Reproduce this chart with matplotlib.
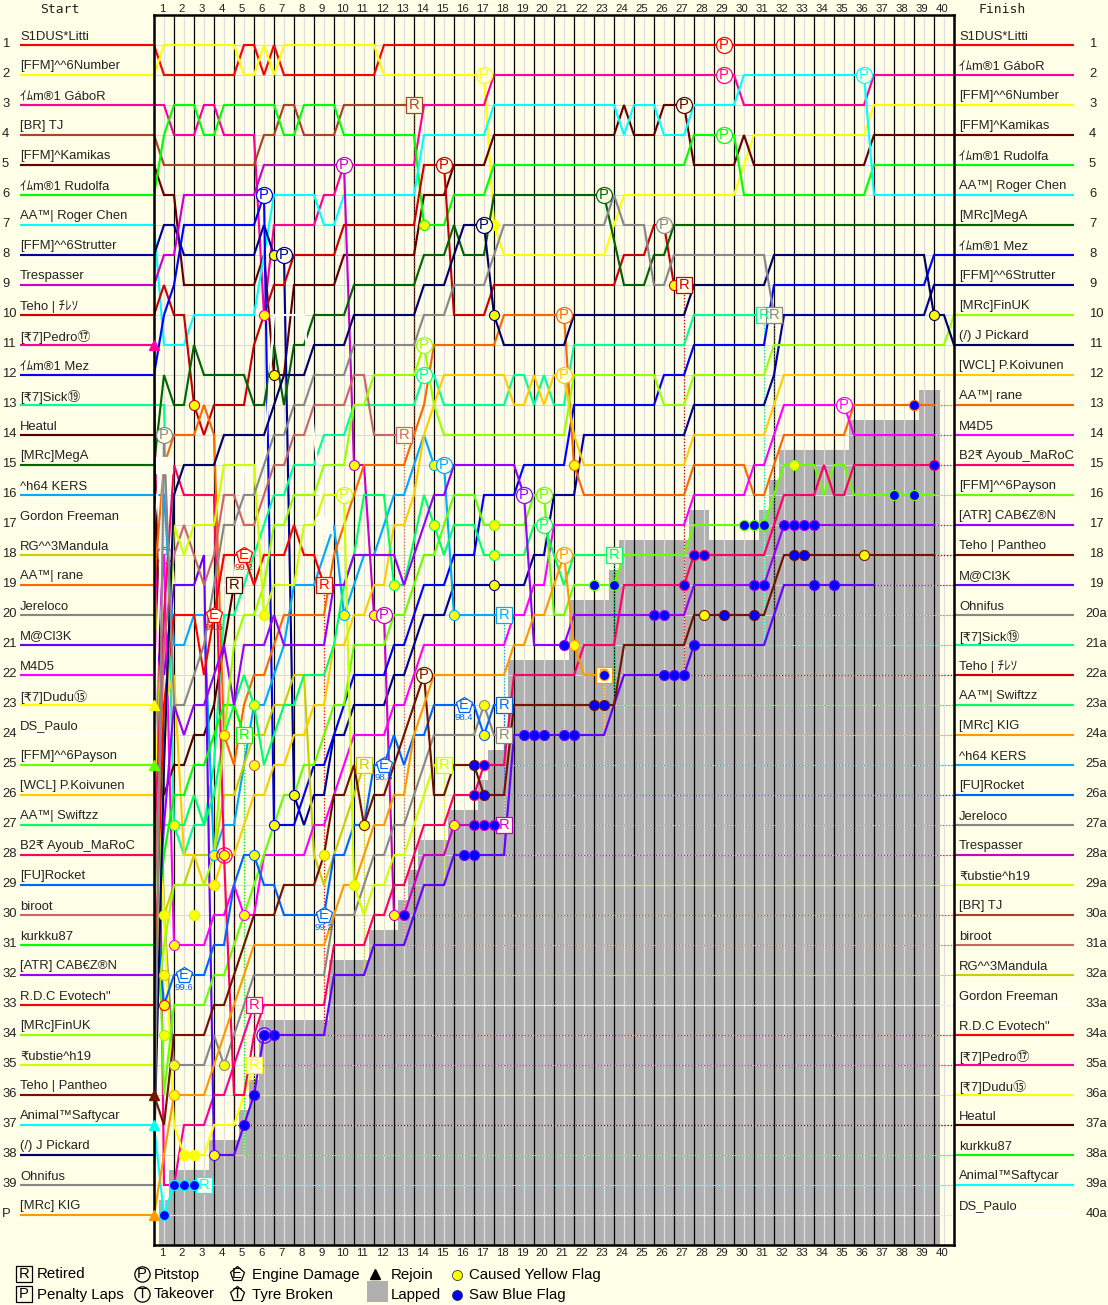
import matplotlib
matplotlib.use("Agg")
import matplotlib.pyplot as plt
from matplotlib.patches import Rectangle

plt.rcParams['font.family'] = ['Liberation Sans', 'Noto Sans CJK JP', 'DejaVu Sans']

# ---- start grid ----
NAMES = ["S1DUS*Litti", "[FFM]^^6Number", "ｲﾑm®1 GáboR", "[BR] TJ", "[FFM]^Kamikas", "ｲﾑm®1 Rudolfa",
         "AA™| Roger Chen", "[FFM]^^6Strutter", "Trespasser", "Teho | ﾁﾚｿ", "[₹7]Pedro⑰", "ｲﾑm®1 Mez",
         "[₹7]Sick⑲", "Heatul", "[MRc]MegA", "^h64 KERS", "Gordon Freeman", "RG^^3Mandula",
         "AA™| rane", "Jereloco", "M@Cl3K", "M4D5", "[₹7]Dudu⑮", "DS_Paulo",
         "[FFM]^^6Payson", "[WCL] P.Koivunen", "AA™| Swiftzz", "B2₹ Ayoub_MaRoC", "[FU]Rocket", "biroot",
         "kurkku87", "[ATR] CAB€Z®N", "R.D.C Evotech\"", "[MRc]FinUK", "₹ubstie^h19", "Teho | Pantheo",
         "Animal™Saftycar", "(/) J Pickard", "Ohnifus", "[MRc] KIG"]
COLORS = ["#ff0000", "#ffff00", "#ff0099", "#aa4422", "#660000", "#00ff00",
          "#00ffff", "#000099", "#cc00cc", "#cc0000", "#ff0099", "#0000ff",
          "#00ff99", "#550000", "#006600", "#00aaff", "#ffffff", "#cccc00",
          "#ff6600", "#888888", "#6600ff", "#ff00ff", "#ffff00", "#ffffff",
          "#66ff00", "#ffcc00", "#00ff66", "#ff0066", "#0066ff", "#cc6666",
          "#00ff00", "#9900ff", "#ff0000", "#99ff00", "#ccff00", "#771100",
          "#00ffff", "#000066", "#888888", "#ff9900"]
FINISH = ["S1DUS*Litti", "ｲﾑm®1 GáboR", "[FFM]^^6Number", "[FFM]^Kamikas", "ｲﾑm®1 Rudolfa", "AA™| Roger Chen",
          "[MRc]MegA", "ｲﾑm®1 Mez", "[FFM]^^6Strutter", "[MRc]FinUK", "(/) J Pickard", "[WCL] P.Koivunen",
          "AA™| rane", "M4D5", "B2₹ Ayoub_MaRoC", "[FFM]^^6Payson", "[ATR] CAB€Z®N", "Teho | Pantheo",
          "M@Cl3K", "Ohnifus", "[₹7]Sick⑲", "Teho | ﾁﾚｿ", "AA™| Swiftzz", "[MRc] KIG",
          "^h64 KERS", "[FU]Rocket", "Jereloco", "Trespasser", "₹ubstie^h19", "[BR] TJ",
          "biroot", "RG^^3Mandula", "Gordon Freeman", "R.D.C Evotech\"", "[₹7]Pedro⑰", "[₹7]Dudu⑮",
          "Heatul", "kurkku87", "Animal™Saftycar", "DS_Paulo"]

# ---- position changes: (lap, new position) ----
LITTI = [(1,2),(5,1),(6,2),(6.5,1),(7,2),(12,1)]
NUMBER = [(1,1),(5,2),(6,1),(6.5,2),(7,1),(12,2),(17.5,7),(18,8),(23.5,7),(24,6),(30,5),(30.5,4),(36.5,3)]
GABOR = [(1.5,4),(3,3),(4,4),(6,10),(6.5,7),(9,6),(10,5),(14,3),(17.5,2),(30,3),(36.5,2)]
TJ = [(1,5),(6,4),(7,3),(8,4),(10,3)]
KAMIKAS = [(1,6),(2,9),(6,8),(6.5,12),(7.5,9),(10,8),(14,6),(15.5,5),(17.5,4),(24,3),(24.5,4),(26,3),(27.5,5),(30,4),(30.5,5),(36.5,4)]
RUDOLFA = [(1,4),(1.5,3),(3,4),(4,3),(7,4),(8,3),(10,4),(14,7),(15.5,6),(17.5,5),(27.5,4),(30,6),(36.5,5)]
ROGER = [(1,11),(2.5,10),(6,8),(6.5,6),(9,7),(10,6),(14,4),(17.5,3),(24,4),(24.5,3),(26,4),(27.5,3),(30,2),(36.5,6)]
STRUTTER = [(1,7),(2,8),(6,7),(6.5,8),(7.5,26),(8,27),(8.5,26),(9.5,24),(10.5,23),(12.5,22),(13.5,21),(14,20),(15.5,19),(19.5,18),(20.5,16),(22,14),(27.5,13),(31.5,12),(32,10),(39.5,9)]
TRESP = [(1,8),(2,6),(6,5),(10.5,15),(11.5,20),(12.5,30),(13.5,29),(14,28),(15.5,27)]
TEHO = [(1,9),(1.5,10),(2.5,13),(3,14),(3.5,13),(5.5,11),(6,10),(6.5,9),(7.5,8),(10,7),(14,5),(15.5,10),(17.5,9),(24,8),(25.5,7),(26.5,9)]
PEDRO = [(1,39),(2,37),(3.5,36),(4.5,35),(5,34),(5.5,33)]
MEZ = [(1,10),(1.5,9),(2,7),(6,6),(6.5,27),(8,26),(8.5,25),(9.5,24),(10,23),(10.5,22),(12.5,21),(13.5,20),(14,19),(15.5,18),(17,16),(19,15),(21.5,13),(26,12),(27.5,11),(31.5,9),(39.5,8)]
SICK = [(1.5,27),(2,28),(2.5,27),(3.5,25),(4,20),(5,19),(5.5,18),(6,17),(6.5,16),(7.5,15),(9,14),(10.5,13),(14,12),(15,13),(18.5,12),(19.5,13),(20,12),(20.5,13),(21.5,11),(27.5,10)]
HEATUL = [(1,26),(1.5,25),(2.5,24),(3.5,23),(4,21),(4.5,19)]
MEGA = [(1,12),(1.5,13),(2.5,11),(3,12),(5.5,13),(6.5,11),(7,13),(7.5,11),(8.5,10),(10.5,9),(14,8),(15.5,7),(16,8),(17.5,6),(23.5,7.5),(24,9),(25.5,8),(26.5,7)]
KERS = [(1.5,21),(2.5,20),(3.5,28),(4,27),(5,25),(5.5,23),(6.5,22),(7,21),(7.5,19),(9,18),(9.5,17),(10,20),(10.5,19),(11,18),(12,17),(12.5,16),(13.5,15),(14,14),(14.5,15),(15.5,20)]
GORDON = [(1,14),(1.5,19),(5,15),(6.5,10),(8.5,14),(9,17)]
MANDULA = [(1,30),(1.5,29),(2.5,28),(4,26),(5,25),(5.5,24),(6.5,23),(7.5,22),(8.5,28),(9,29),(9.5,28),(10,27),(10.5,26),(11,25)]
RANE = [(1,15),(1.5,14),(3,13),(3.5,14),(4,24),(4.5,25),(5,23),(5.5,22),(6.5,21),(7,20),(9.5,18),(10,17),(10.5,16),(11,15),(13.5,14),(14,13),(14.5,11),(18,10),(21.5,15),(22,16),(27.5,15),(30.5,16),(31.5,15),(32,14),(35.5,13)]
JERELOCO = [(1,30),(1.5,35),(3.5,34),(4,35),(4.5,34),(5,33),(5.5,32),(9.5,30),(11,29),(11.5,28),(12.5,27),(13.5,26),(14,25),(14.5,24),(17,23),(17.5,24)]
MACLEK = [(1,22),(1.5,19),(3,18),(3.5,38),(5,37),(5.5,36),(6,34),(9.5,32),(11.5,31),(13.5,30),(14,29),(15.5,28),(18.5,24),(23.5,23),(24,22),(27.5,21),(31.5,20),(32,19)]
M4D5 = [(1,18),(1.5,31),(3.5,30),(4.5,29),(5,30),(6,28),(8.5,27),(9.5,26),(10,25),(10.5,24),(12.5,23),(13.5,22),(14,21),(18.5,20),(19.5,19),(20.5,17),(27.5,16),(30.5,15),(31.5,14),(32,13),(35.5,14)]
DUDU = [(1,30),(1.5,37),(2,38),(3.5,37),(5,36),(5.5,35)]
PAULO = [(1,15)]
PAYSON = [(1,36),(1.5,33),(3.5,32),(4.5,31),(5,30),(5.5,29),(6,28),(6.5,27),(7,26),(8,25),(9,24),(9.5,23),(10.5,21),(12.5,20),(13.5,19),(14,18),(15,17),(15.5,16),(17,17),(19.5,16),(20.5,20),(21.5,19),(24,18),(27.5,17),(31.5,16),(32,15),(34,16),(34.5,15),(35.5,16)]
KOIVUNEN = [(1,23),(1.5,22),(2,28),(3,29),(4,28),(5,27),(5.5,26),(6.5,25),(7.5,24),(8.5,23),(9.5,21),(10.5,20),(11.5,19),(12.5,17),(13.5,16),(14,14),(14.5,13),(15,12),(18.5,13),(19.5,12),(20,13),(20.5,12),(21.5,14),(22,15),(27.5,14),(31.5,13),(32,12)]
SWIFTZZ = [(1.5,27),(2.5,26),(3,27),(3.5,26),(4,24),(4.5,23),(5,22),(5.5,23),(6,25),(6.5,24),(7,23),(8,22),(9.5,21),(10,19),(10.5,18),(11,16),(12.5,19),(13.5,17.5),(14,16),(14.5,17),(15,18),(15.5,17),(17,18),(19.5,17),(20.5,18),(21,19),(21.5,18)]
AYOUB = [(1,20),(1.5,15),(2,16),(4,28),(4.5,36),(5.5,34),(6,33),(9.5,31),(11.5,30),(12.5,29),(13.5,28),(14,27),(15.5,26),(17,25),(18.5,22),(22,21),(24,19),(27.5,18),(31.5,17),(32,16),(34,15),(34.5,16),(35.5,15)]
ROCKET = [(1,33),(1.5,32),(3.5,31),(4.5,29),(5,28),(6,29),(7,30),(9.5,28),(10.5,27),(11.5,25),(12.5,24),(13,25),(13.5,24),(14.5,23),(17,24),(17.5,23)]
BIROOT = [(1,21),(1.5,18),(2,17),(2.5,18),(3,19),(3.5,18),(4,16),(5,17),(6,16),(6.5,15),(7.5,14),(8.5,13),(10.5,12),(11.5,14)]
KURKKU = [(1,28),(1.5,26),(2.5,25),(3.5,24),(4,23),(5,24)]
CABEZON = [(1,27),(1.5,23),(2,24),(2.5,23),(3.5,22),(4,21),(4.5,23),(5,21),(6.5,20),(7,21),(9.5,19),(10.5,18),(13,19),(13.5,18),(14,17),(14.5,16),(15.5,15),(19,16),(19.5,21),(21.5,20),(27.5,19),(31.5,18),(32,17)]
EVOTECH = [(1,23),(1.5,20),(3,22),(3.5,20),(4,18),(5.5,19),(6,18),(7.5,17),(8,18),(9,19)]
FINUK = [(1,31),(1.5,29),(3.5,28),(4,24),(4.5,21),(5,20),(6,19),(6.5,17),(7.5,16),(9,15),(10.5,13),(11.5,12),(14,11),(14.5,13),(15,14),(21.5,12),(26,13),(27.5,12),(31.5,11),(40.5,10)]
RUBSTIE = [(1,25),(1.5,17),(2,18),(2.5,17),(4,15),(6,20),(6.5,19),(8,17),(9,16),(10.5,29),(11,30),(11.5,29),(12.5,28),(13.5,27),(14,26),(14.5,25)]
PANTHEO = [(1,37),(1.5,34),(3.5,33),(4.5,32),(5,31),(5.5,30),(7,29),(9,28),(9.5,26),(10.5,25),(11,27),(11.5,26),(12.5,25),(13,24),(13.5,23),(14,22),(14.5,26),(15.5,25),(17,26),(18.5,23),(24,21),(27.5,20),(31.5,19),(32,18)]
SAFTY = [(1,40),(1.5,39)]
PICKARD = [(1,25),(1.5,16),(2,15),(4,14),(6.5,13),(7,12),(8.5,11),(10.5,10),(14,9),(15.5,8),(16,7),(17.5,10),(18,11),(21.5,10),(27.5,9),(31.5,8),(39.5,10),(40.5,11)]
OHNIFUS = [(1,14),(1.5,23),(2.5,22),(3,21),(3.5,19),(4,17),(5,16),(6,15),(6.5,14),(7.5,13),(8.5,12),(10.5,11),(14,10),(15.5,9),(17.5,8),(18,7),(23.5,6),(24,7),(25.5,9),(26.5,8),(31.5,10)]
KIG = [(1,38),(1.5,36),(3.5,35),(4,34),(4.5,33),(5,32),(5.5,31),(9.5,30),(10,29),(11,28),(11.5,27),(12.5,26),(13.5,24),(14,23),(14.5,22),(18.5,21),(19.5,20),(20.5,19),(21,18),(21.5,21),(22,22)]

TRACKS = [LITTI, NUMBER, GABOR, TJ, KAMIKAS, RUDOLFA, ROGER, STRUTTER, TRESP, TEHO, PEDRO, MEZ, SICK, HEATUL,
          MEGA, KERS, GORDON, MANDULA, RANE, JERELOCO, MACLEK, M4D5, DUDU, PAULO, PAYSON, KOIVUNEN, SWIFTZZ,
          AYOUB, ROCKET, BIROOT, KURKKU, CABEZON, EVOTECH, FINUK, RUBSTIE, PANTHEO, SAFTY, PICKARD, OHNIFUS, KIG]

# ---- retirement lap (driver start index + 1 : lap) ----
RETIRE = {4: 13.5, 9: 18, 10: 27, 11: 5.5, 13: 31, 14: 4.5, 16: 18, 17: 9, 18: 11, 20: 18, 23: 5.5, 24: 1,
          27: 23.5, 29: 18, 30: 13, 31: 5, 33: 9, 35: 15, 37: 3, 39: 31.5, 40: 23}
# last lap drawn solid, for cars a lap down at the flag
END_SOLID = {21: 36.5, 22: 39.5, 25: 39.5, 28: 39.5, 32: 39.5, 36: 39.5, 19: 39.5}
REJOIN_START = [11, 23, 25, 36, 37, 40]

# ---- events: (driver start index + 1, lap, position) ----
PITS = [(1,29,1),(3,29,2),(6,29,4),(7,36,2),(2,17,2),(5,27,3),(15,23,6),(39,26,7),(12,6,6),(8,7,8),(38,17,7),
        (9,10,5),(9,12,20),(10,15,5),(19,21,10),(26,21,12),(34,14,11),(13,14,12),(35,10,16),(16,15,15),
        (32,19,16),(25,20,16),(27,20,17),(40,21,18),(36,14,22),(39,1,14),(22,35,13)]
BURIED_PITS = [(22,1,18)]
ENGINE = [(33,3.5,20,"99.6"),(33,5,18,"99.2"),(29,2,32,"99.6"),(29,9,30,"99.2"),(29,12,25,"98.8"),(29,16,23,"98.4")]
YELLOW = [(6,14,7),(38,17.5,10),(2,17.5,7),(10,26.5,9),(10,2.5,13),(38,39.5,10),(8,6.5,8),(3,6,10),(36,36,18),
          (25,32.5,15),(5,6.5,12),(19,21.5,15),(40,21.5,21),(9,10.5,15),(9,11.5,20),(9,12.5,30),(9,15.5,27),
          (16,14.5,15),(16,15.5,20),(35,6,20),(35,10.5,29),(27,12.5,19),(16,10,20),(27,14.5,17),(25,17.5,17),
          (27,17.5,18),(8,17.5,19),(20,17,23),(29,17,24),(18,9,28),(19,4,24),(27,5.5,23),(30,5.5,25),(27,1.5,27),
          (16,3.5,28),(28,4,28),(29,5.5,28),(26,3.5,29),(35,2.5,30),(22,5,30),(35,1,30),(22,1.5,31),(8,7.5,26),
          (12,6.5,27),(36,11,27),(20,1.5,35),(40,1.5,36),(20,4,35),(23,2,38),(23,2.5,38),(21,3.5,38),(36,28,20),
          (39,31.5,10),(18,1,32),(33,1,33),(34,1,34)]
BLUE = [(37,1,40),(37,1.5,39),(37,2,39),(37,2.5,39),(21,5,37),(21,5.5,36),(21,6,34),(21,6.5,34),(9,13,30),
        (36,16.5,25),(36,17,26),(28,16.5,26),(28,17,25),(9,16.5,27),(9,17,27),(9,17.5,27),(21,16,28),(21,16.5,28),
        (21,19,24),(21,19.5,24),(21,20,24),(21,21,24),(21,21.5,24),(36,22.5,23),(36,23,23),(32,21,21),(40,23,22),
        (21,26,22),(21,26.5,22),(21,27,22),(21,27.5,21),(32,25.5,20),(32,26,20),(28,27,19),(28,27.5,18),(28,28,18),
        (36,29,20),(36,30.5,20),(32,30.5,19),(32,31,19),(25,30,17),(25,30.5,17),(25,31,17),(25,22.5,19),(25,23.5,19),
        (32,32,17),(32,32.5,17),(32,33,17),(32,33.5,17),(36,32.5,18),(36,33,18),(21,33.5,19),(21,34.5,19),
        (19,38.5,13),(25,37.5,16),(25,38.5,16),(28,39.5,15)]
RINGS = [(28,4,28),(21,6,34)]

# ---- lapped area: lap edges and upper position for each step ----
LAPPED_EDGES = [0.75,1.25,3.25,4.75,5.25,5.75,9.25,11.25,12.7,13.2,13.7,15.2,16.7,17.2,18.2,21.25,23.25,23.75,
                27.25,28.25,30.75,31.25,31.75,35.25,38.75,39.8]
LAPPED_TOP = [39.5,38.5,37.5,36.5,35.5,33.5,31.5,30.5,29.5,28.5,27.5,26.5,25.5,24.5,21.5,19.5,18.5,17.5,
              16.5,17.5,16.5,15.5,14.5,13.5,12.5]
LAPS = list(range(1, 41))

BG = "#ffffe8"
fig = plt.figure(figsize=(11.08, 13.05), dpi=100, facecolor=BG)
lay = fig.add_axes([0, 0, 1, 1])
lay.set_xlim(0, 1108); lay.set_ylim(1305, 0); lay.axis("off")
ax = fig.add_axes([154/1108, 1-1245/1305, 800/1108, 1230/1305], facecolor=BG)
ax.set_xlim(0.5, 40.5); ax.set_ylim(41, 0)
ax.set_xticks([]); ax.set_yticks([])
for s in ax.spines.values():
    s.set_linewidth(1.8); s.set_color("black"); s.set_zorder(20)

LW = 1.55
for k in LAPS[:-1]:
    ax.axvline(k+0.5, color="black", lw=0.9, zorder=2)
ax.bar(LAPPED_EDGES[:-1], [41-t for t in LAPPED_TOP],
       width=[b-a for a, b in zip(LAPPED_EDGES[:-1], LAPPED_EDGES[1:])],
       bottom=LAPPED_TOP, align="edge", color="#b0b0b0", linewidth=0, zorder=1)
for k in LAPS:
    ax.axvline(k, color="#dedede", lw=0.9, zorder=1.3)
for r in range(1, 41):
    ax.axhline(r, color="#d8d8d8", lw=0.7, zorder=1.2)


def path(start, changes, end):
    xs, ys = [0.5], [start]
    for lap, row in changes:
        if lap - 0.5 > xs[-1]:
            xs.append(lap - 0.5); ys.append(ys[-1])
        xs.append(lap); ys.append(row)
    if end > xs[-1]:
        xs.append(end); ys.append(ys[-1])
    return xs, ys


last_row = {}
for i, (name, color, track) in enumerate(zip(NAMES, COLORS, TRACKS)):
    idx = i + 1
    ret = RETIRE.get(idx)
    end = ret if ret else END_SOLID.get(idx, 40.5)
    kept = [(a, b) for a, b in track if a <= end]
    xs, ys = path(idx, kept, end)
    ax.plot(xs, ys, color=color, lw=LW, solid_joinstyle="miter", zorder=3 + i*0.01)
    last_row[idx] = ys[-1]
    final = FINISH.index(name) + 1
    if end < 40.5:
        dx = [end, end, 40.5] if ret else [end, 40.5]
        dy = [ys[-1], final, final] if ret else [final, final]
        ax.plot(dx, dy, color=color, lw=0.9, ls=(0, (1, 1.5)), zorder=2.5)
    # stubs and labels
    y = 45 + 30*i
    lay.plot([20, 154], [y, y], color=color, lw=LW, zorder=1, solid_capstyle="butt")
    lay.text(20, y-8.5, name, fontsize=9.4, va="center", ha="left", color="#222222")
    lay.text(2, y-1, "P" if idx == 40 else str(idx), fontsize=9.4, va="center", ha="left", color="#222222")
    yf = 45 + 30*(final-1)
    lay.plot([954, 1074], [yf, yf], color=color, lw=LW, zorder=1, solid_capstyle="butt")
    lay.text(959, yf-8.5, name, fontsize=9.4, va="center", ha="left", color="#222222")
    lay.text(1089 if final < 20 else 1085.5, yf-1, str(final) if final < 20 else f"{final}a",
             fontsize=9.4, va="center", ha="left", color="#222222")


def dots(items, face, z):
    for d, lap, row in items:
        ax.plot([lap], [row], "o", ms=7.2, mfc=face, mec=COLORS[d-1], mew=0.8, zorder=z)


def badge(a, lap, row, letter, color, marker, z, ms=11.5):
    a.plot([lap], [row], marker, ms=ms, mfc=BG, mec=color, mew=0.9, zorder=z, clip_on=False)
    a.text(lap, row, letter, color=color, fontsize=10.6, ha="center", va="center", zorder=z+0.1, clip_on=False)


dots(YELLOW, "#ffff00", 5)
for d, lap, row in BURIED_PITS:
    badge(ax, lap, row, "P", COLORS[d-1], "o", 2.8)
for d, lap, row in PITS:
    badge(ax, lap, row, "P", COLORS[d-1], "o", 6)
for d, lap, row, val in ENGINE:
    badge(ax, lap, row, "E", COLORS[d-1], "p", 6, ms=12)
    ax.text(lap, row+0.42, val, color=COLORS[d-1], fontsize=6.8, ha="center", va="center", zorder=6.2)
for idx, lap in RETIRE.items():
    badge(ax, lap, last_row[idx], "R", COLORS[idx-1], "s", 6.5, ms=12)
dots(BLUE, "#0000ff", 7)
for d, lap, row in RINGS:
    ax.plot([lap], [row], "o", ms=11, mfc="none", mec=COLORS[d-1], mew=0.9, zorder=7)
for idx in REJOIN_START:
    ax.plot([0.5], [idx], "^", ms=7.5, color=COLORS[idx-1], zorder=25, clip_on=False)

# lap numbers
for k in LAPS:
    x = 164 + 20*(k-1) - 2
    lay.text(x, 9, str(k), fontsize=8.2, ha="center", va="center", color="#222222")
    lay.text(x, 1253, str(k), fontsize=8.2, ha="center", va="center", color="#222222")
lay.text(40, 9.5, "Start", family="DejaVu Sans Mono", fontsize=9.4, va="center", color="#222222")
lay.text(979, 9.5, "Finish", family="DejaVu Sans Mono", fontsize=9.4, va="center", color="#222222")

# legend
FS = 10.8
badge(lay, 24, 1274, "R", "black", "s", 5, ms=11.5)
badge(lay, 24, 1294, "P", "black", "s", 5, ms=11.5)
lay.text(37, 1274.5, "Retired", fontsize=FS, va="center")
lay.text(37, 1294.5, "Penalty Laps", fontsize=FS, va="center")
badge(lay, 142, 1274, "P", "black", "o", 5, ms=11)
badge(lay, 142, 1294, "T", "black", "o", 5, ms=11)
lay.text(154, 1274.5, "Pitstop", fontsize=FS, va="center")
lay.text(154, 1294.5, "Takeover", fontsize=FS, va="center")
badge(lay, 237, 1274, "E", "black", "p", 5, ms=11)
badge(lay, 237, 1294, "T", "black", "p", 5, ms=11)
lay.text(252, 1274.5, "Engine Damage", fontsize=FS, va="center")
lay.text(252, 1294.5, "Tyre Broken", fontsize=FS, va="center")
lay.plot([375], [1274], "^", ms=7, color="black")
lay.add_patch(Rectangle((367, 1281), 21, 21, facecolor="#b0b0b0", edgecolor="none"))
lay.text(391, 1274.5, "Rejoin", fontsize=FS, va="center")
lay.text(391, 1294.5, "Lapped", fontsize=FS, va="center")
lay.plot([457], [1275], "o", ms=7.2, mfc="#ffff00", mec="#333333", mew=0.6)
lay.plot([457], [1295], "o", ms=7.2, mfc="#0000ff", mec="#333333", mew=0.6)
lay.text(469, 1274.5, "Caused Yellow Flag", fontsize=FS, va="center")
lay.text(469, 1294.5, "Saw Blue Flag", fontsize=FS, va="center")

fig.savefig("out.png", dpi=100, facecolor=BG)
